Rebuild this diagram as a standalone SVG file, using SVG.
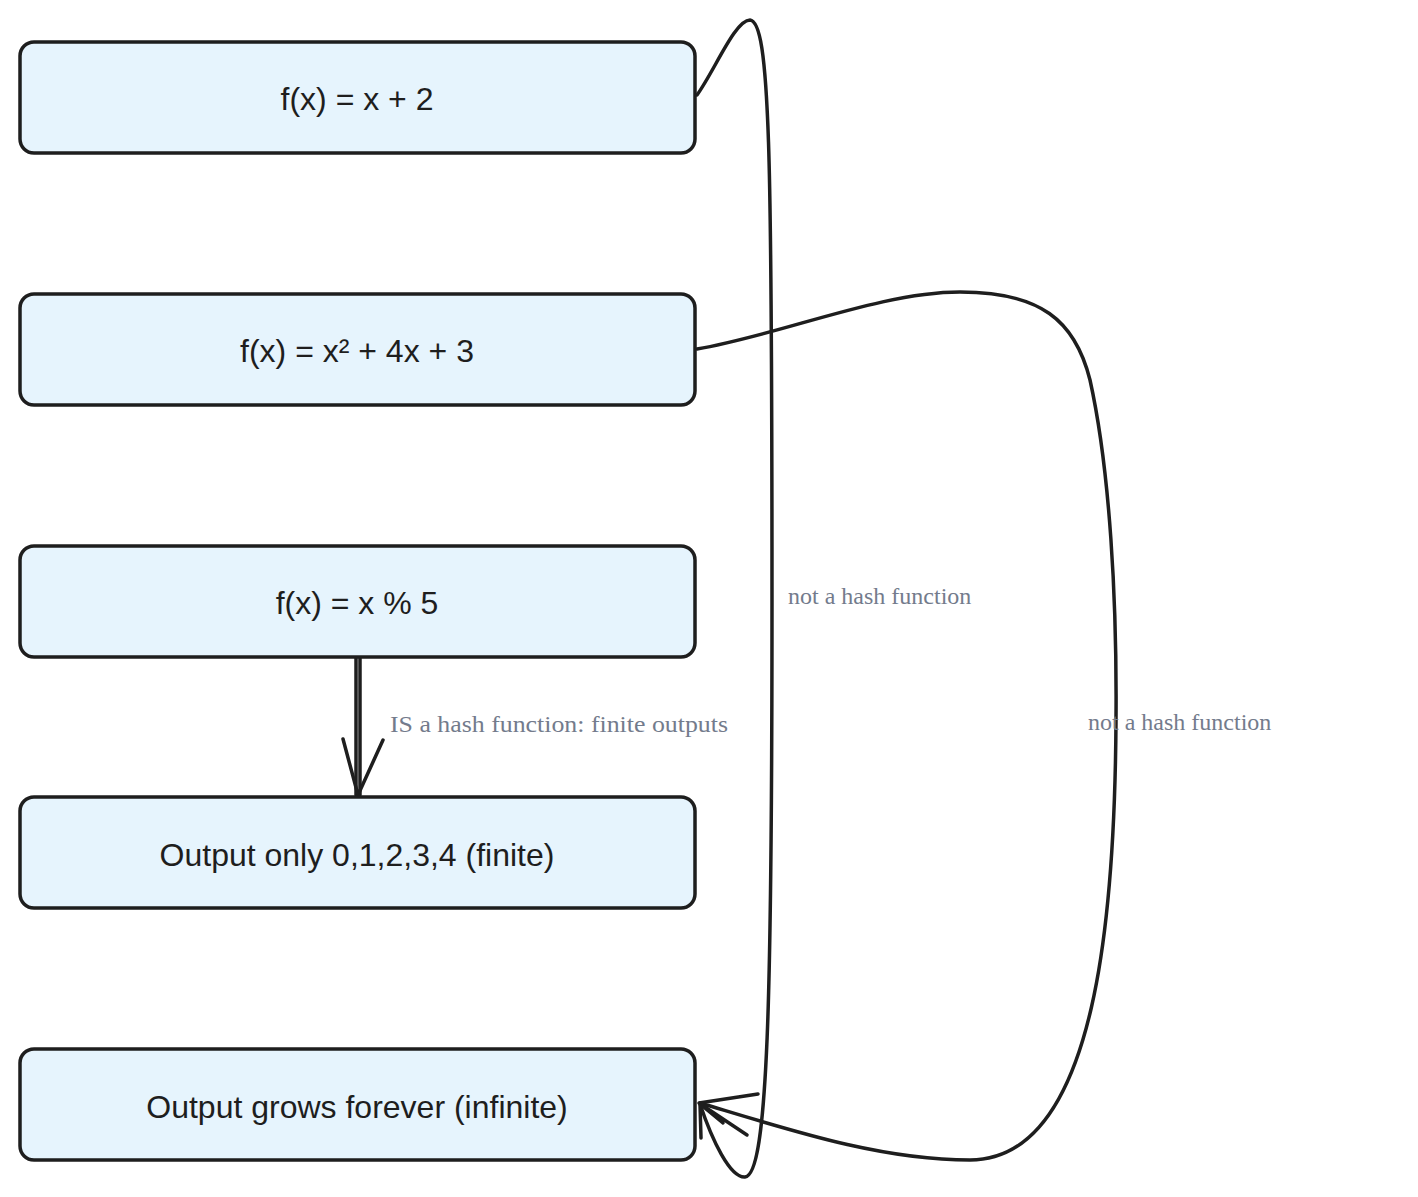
<svg xmlns="http://www.w3.org/2000/svg" width="1418" height="1197" viewBox="0 0 1418 1197">
<style>
.box{fill:#e6f4fd;stroke:#1e1e1e;stroke-width:3.5}
.lbl{font-family:"Liberation Sans",Arial,sans-serif;font-size:32px;fill:#1e1e1e;text-anchor:middle}
.edge{fill:none;stroke:#1e1e1e;stroke-width:3.5;stroke-linecap:round;stroke-linejoin:round}
.elbl{font-family:"Liberation Serif","Times New Roman",serif;font-size:24px;fill:#737b8c}
</style>
<rect width="1418" height="1197" fill="#ffffff"/>
<g id="connectors">
<path class="edge" d="M697,95 C715,70 735,20 750,20 C770,22 772,150 772,600 C772,1000 768,1175 745,1177 C730,1178 712,1140 700,1104"/>
<path class="edge" d="M697,349 C780,335 880,292 960,292 C1040,292 1075,320 1090,380 C1110,470 1117,600 1116,720 C1115,900 1100,1160 970,1160 C880,1160 790,1130 700,1103"/>
<path class="edge" d="M758,1094 L699,1103 L747,1135 M723,1123 L700,1104 L701,1138"/>
<path class="edge" stroke-width="2.5" d="M356,657 L356,795 M360,657 L360,795"/>
<path class="edge" d="M343,739 L358,795 L383,740"/>
<text class="elbl" x="788" y="604">not a hash function</text>
<text class="elbl" x="1088" y="730">not a hash function</text>
<text class="elbl" x="390" y="732" textLength="338" lengthAdjust="spacingAndGlyphs">IS a hash function: finite outputs</text>
</g>
<g id="n1"><rect class="box" x="20" y="42" width="675" height="111" rx="14"/><text class="lbl" x="357" y="110">f(x) = x + 2</text></g>
<g id="n2"><rect class="box" x="20" y="294" width="675" height="111" rx="14"/><text class="lbl" x="357" y="362">f(x) = x² + 4x + 3</text></g>
<g id="n3"><rect class="box" x="20" y="546" width="675" height="111" rx="14"/><text class="lbl" x="357" y="614">f(x) = x % 5</text></g>
<g id="n4"><rect class="box" x="20" y="797" width="675" height="111" rx="14"/><text class="lbl" x="357" y="866">Output only 0,1,2,3,4 (finite)</text></g>
<g id="n5"><rect class="box" x="20" y="1049" width="675" height="111" rx="14"/><text class="lbl" x="357" y="1118">Output grows forever (infinite)</text></g>
</svg>
